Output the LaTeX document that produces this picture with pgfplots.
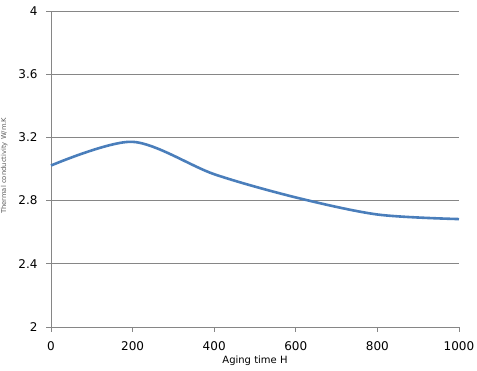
\documentclass[border=0pt]{standalone}
\usepackage{pgfplots}
\pgfplotsset{compat=1.18}
\usepackage{fontspec}
\setmainfont{DejaVu Sans}
\definecolor{axgrey}{HTML}{868686}
\definecolor{lineblue}{HTML}{4A7EBB}
\begin{document}
\begin{tikzpicture}
\begin{axis}[
  at={(0,0)}, anchor=south west,
  scale only axis,
  width=408pt, height=316pt,
  xmin=0, xmax=1000, ymin=2, ymax=4,
  xtick={0,200,...,1000},
  xticklabels={0,200,400,600,800,1000},
  ytick={2,2.4,...,4.01},
  yticklabels={2,2.4,2.8,3.2,3.6,4},
  axis x line*=bottom, axis y line*=left,
  axis line style={axgrey, line width=0.8pt, -},
  ymajorgrids, major grid style={axgrey, line width=0.8pt},
  tick style={axgrey, line width=0.8pt},
  tick align=outside, major tick length=5pt,
  /pgf/number format/assume math mode=true,
  ticklabel style={font=\fontsize{12}{13}\selectfont, black},
  yticklabel style={xshift=-5pt},
  xticklabel style={yshift=-6pt},
  xlabel={Aging time H},
  xlabel style={font=\fontsize{10}{11}\selectfont, at={(axis description cs:0.5,0)}, anchor=base, yshift=-37pt},
  ylabel={Thermal conductivity W/m.K},
  ylabel style={font=\fontsize{6.8}{7.5}\selectfont, text=axgrey!70!black, at={(axis description cs:0,0.51)}, anchor=south, yshift=40pt},
  clip=false,
]
\addplot[lineblue, line width=2.6pt, smooth, tension=0.5] coordinates {
  (0,3.022) (200,3.172) (400,2.967) (600,2.820) (800,2.712) (1000,2.683)
};
\end{axis}
\pgfresetboundingbox
\useasboundingbox (-51pt,-44pt) rectangle (426pt,327pt);
\end{tikzpicture}
\end{document}
